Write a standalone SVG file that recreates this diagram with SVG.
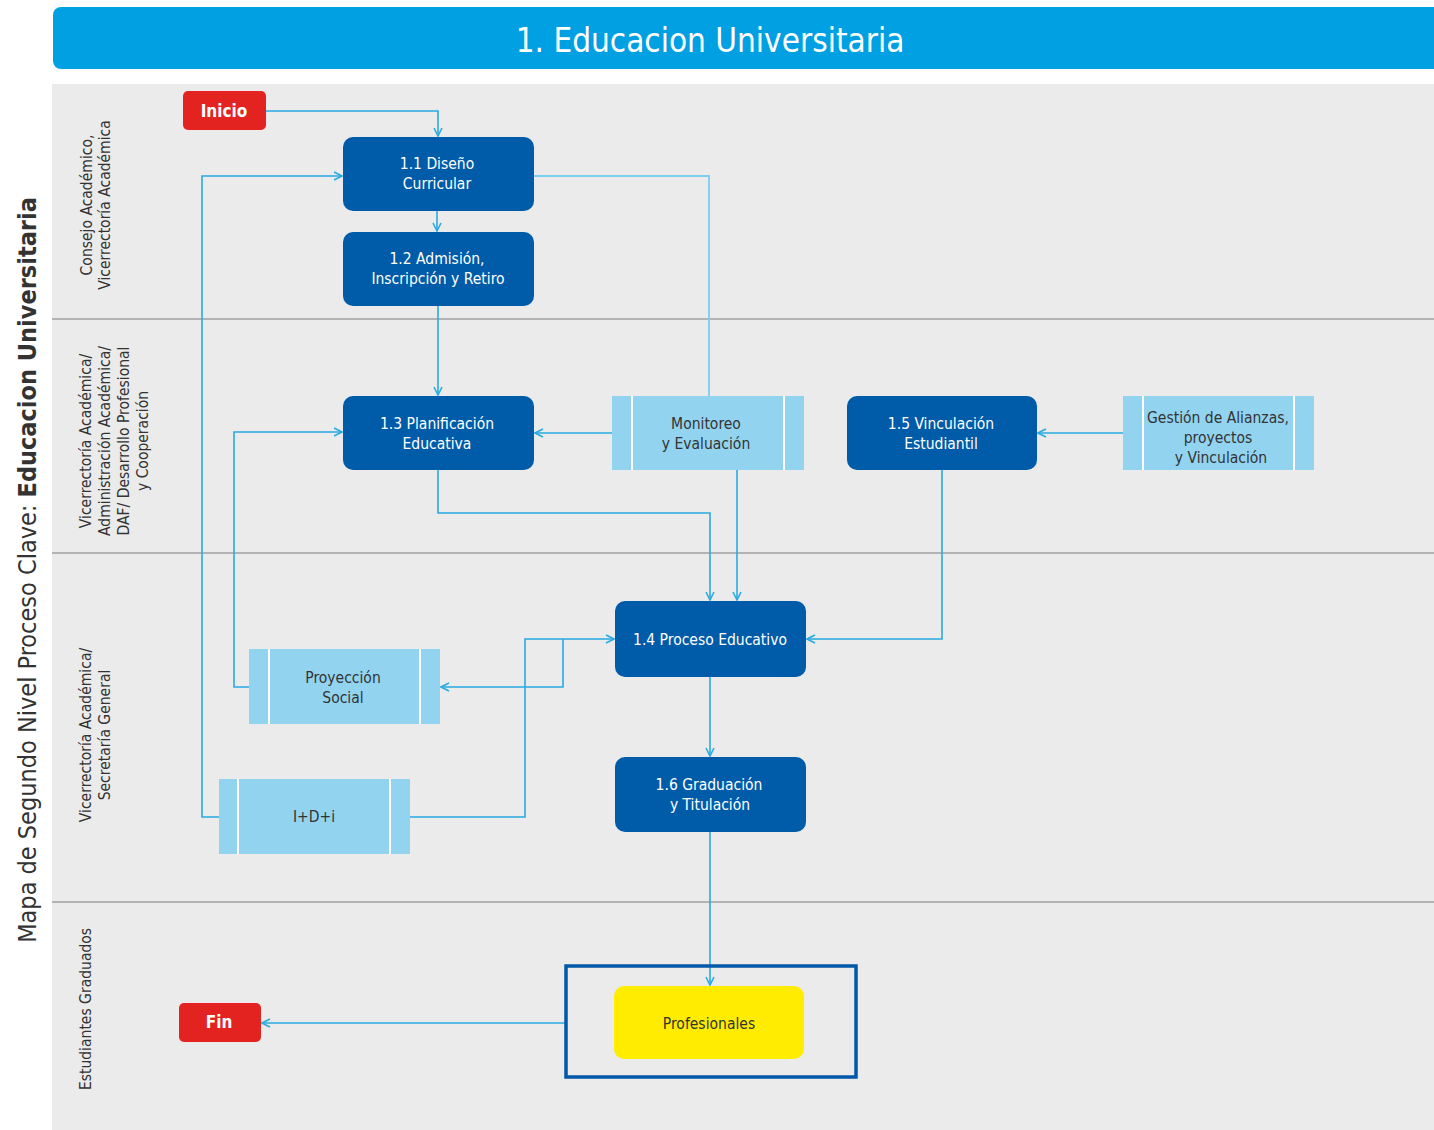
<svg xmlns="http://www.w3.org/2000/svg" width="1434" height="1130" viewBox="0 0 1434 1130">
<style>
.lane{fill:#ebebeb}
.sep{stroke:#b3b3b3;stroke-width:2}
.proc{fill:#005ca9}
.sub{fill:#92d3f0}
.bar{stroke:#ffffff;stroke-width:2}
.term{fill:#e3231f}
.wt{fill:#ffffff;font-family:"DejaVu Sans Condensed","DejaVu Sans",sans-serif;font-stretch:condensed;font-size:15.5px;text-anchor:middle}
.dt{fill:#333333;font-family:"DejaVu Sans Condensed","DejaVu Sans",sans-serif;font-stretch:condensed;font-size:15.5px;text-anchor:middle}
.tt{fill:#ffffff;font-family:"DejaVu Sans Condensed","DejaVu Sans",sans-serif;font-stretch:condensed;font-size:17px;font-weight:bold;text-anchor:middle}
.ll{fill:#333333;font-family:"DejaVu Sans Condensed","DejaVu Sans",sans-serif;font-stretch:condensed;font-size:15.5px;text-anchor:middle}
.c{fill:none;stroke:#29abe2;stroke-width:1.6}
</style>
<defs>
<marker id="arr" viewBox="0 0 10 10" refX="9" refY="5" markerWidth="10" markerHeight="10" markerUnits="userSpaceOnUse" orient="auto">
<path d="M1,1 L9,5 L1,9" fill="none" stroke="#29abe2" stroke-width="1.6"/>
</marker>
</defs>
<rect x="0" y="0" width="1434" height="1130" fill="#ffffff"/>
<g id="header">
<rect x="53" y="7" width="1400" height="62" rx="8" fill="#00a0e3"/>
<text x="710" y="52" fill="#ffffff" font-family="DejaVu Sans Condensed, DejaVu Sans, sans-serif" font-stretch="condensed" font-size="33" text-anchor="middle">1. Educacion Universitaria</text>
</g>
<g id="side-title">
<text transform="translate(36,570) rotate(-90)" fill="#333333" font-family="DejaVu Sans Condensed, DejaVu Sans, sans-serif" font-stretch="condensed" font-size="25" text-anchor="middle">Mapa de Segundo Nivel Proceso Clave: <tspan font-weight="bold">Educacion Universitaria</tspan></text>
</g>
<g id="lanes">
<rect class="lane" x="52" y="84" width="1382" height="1046"/>
<line class="sep" x1="52" y1="319" x2="1434" y2="319"/>
<line class="sep" x1="52" y1="553" x2="1434" y2="553"/>
<line class="sep" x1="52" y1="902" x2="1434" y2="902"/>
<text class="ll" transform="translate(92,205) rotate(-90)">Consejo Académico,</text>
<text class="ll" transform="translate(110,205) rotate(-90)">Vicerrectoría Académica</text>
<text class="ll" transform="translate(91,441) rotate(-90)">Vicerrectoría Académica/</text>
<text class="ll" transform="translate(110,441) rotate(-90)">Administración Académica/</text>
<text class="ll" transform="translate(129,441) rotate(-90)">DAF/ Desarrollo Profesional</text>
<text class="ll" transform="translate(148,441) rotate(-90)">y Cooperación</text>
<text class="ll" transform="translate(91,735) rotate(-90)">Vicerrectoría Académica/</text>
<text class="ll" transform="translate(110,735) rotate(-90)">Secretaría General</text>
<text class="ll" transform="translate(91,1009) rotate(-90)">Estudiantes Graduados</text>
</g>
<g id="connectors">
<path class="c" d="M266,111 H438 V136" marker-end="url(#arr)"/>
<path class="c" d="M437,211 V231" marker-end="url(#arr)"/>
<path class="c" d="M438,306 V395" marker-end="url(#arr)"/>
<path d="M534,176 H709 V396" fill="none" stroke="#7dcdf0" stroke-width="1.8"/>
<path class="c" d="M612,433 H535" marker-end="url(#arr)"/>
<path class="c" d="M737,470 V600" marker-end="url(#arr)"/>
<path class="c" d="M438,470 V513 H710 V600" marker-end="url(#arr)"/>
<path class="c" d="M942,470 V639 H807" marker-end="url(#arr)"/>
<path class="c" d="M1123,433 H1038" marker-end="url(#arr)"/>
<path class="c" d="M410,817 H525 V639 H614" marker-end="url(#arr)"/>
<path class="c" d="M563,639 V687 H441" marker-end="url(#arr)"/>
<path class="c" d="M249,687 H234 V432 H342" marker-end="url(#arr)"/>
<path class="c" d="M219,817 H202 V176 H342" marker-end="url(#arr)"/>
<path class="c" d="M710,677 V756" marker-end="url(#arr)"/>
<path class="c" d="M710,832 V985" marker-end="url(#arr)"/>
<path class="c" d="M565,1023 H262" marker-end="url(#arr)"/>
</g>
<g id="inicio">
<rect class="term" x="183" y="91" width="83" height="39" rx="5"/>
<text class="tt" x="224" y="117">Inicio</text>
</g>
<g id="n11">
<rect class="proc" x="343" y="137" width="191" height="74" rx="10"/>
<text class="wt" x="437" y="169">1.1 Diseño</text>
<text class="wt" x="437" y="189">Curricular</text>
</g>
<g id="n12">
<rect class="proc" x="343" y="232" width="191" height="74" rx="10"/>
<text class="wt" x="437" y="264">1.2 Admisión,</text>
<text class="wt" x="438" y="284">Inscripción y Retiro</text>
</g>
<g id="n13">
<rect class="proc" x="343" y="396" width="191" height="74" rx="10"/>
<text class="wt" x="437" y="429">1.3 Planificación</text>
<text class="wt" x="437" y="449">Educativa</text>
</g>
<g id="monitoreo">
<rect class="sub" x="612" y="396" width="192" height="74"/>
<line class="bar" x1="632" y1="396" x2="632" y2="470"/>
<line class="bar" x1="784" y1="396" x2="784" y2="470"/>
<text class="dt" x="706" y="429">Monitoreo</text>
<text class="dt" x="706" y="449">y Evaluación</text>
</g>
<g id="n15">
<rect class="proc" x="847" y="396" width="190" height="74" rx="10"/>
<text class="wt" x="941" y="429">1.5 Vinculación</text>
<text class="wt" x="941" y="449">Estudiantil</text>
</g>
<g id="gestion">
<rect class="sub" x="1123" y="396" width="191" height="74"/>
<line class="bar" x1="1143" y1="396" x2="1143" y2="470"/>
<line class="bar" x1="1294" y1="396" x2="1294" y2="470"/>
<text class="dt" x="1218" y="423" font-size="15">Gestión de Alianzas,</text>
<text class="dt" x="1218" y="443" font-size="15">proyectos</text>
<text class="dt" x="1221" y="463" font-size="15">y Vinculación</text>
</g>
<g id="n14">
<rect class="proc" x="615" y="601" width="191" height="76" rx="10"/>
<text class="wt" x="710" y="645">1.4 Proceso Educativo</text>
</g>
<g id="proyeccion">
<rect class="sub" x="249" y="649" width="191" height="75"/>
<line class="bar" x1="269" y1="649" x2="269" y2="724"/>
<line class="bar" x1="420" y1="649" x2="420" y2="724"/>
<text class="dt" x="343" y="683">Proyección</text>
<text class="dt" x="343" y="703">Social</text>
</g>
<g id="idi">
<rect class="sub" x="219" y="779" width="191" height="75"/>
<line class="bar" x1="238" y1="779" x2="238" y2="854"/>
<line class="bar" x1="390" y1="779" x2="390" y2="854"/>
<text class="dt" x="314" y="822">I+D+i</text>
</g>
<g id="n16">
<rect class="proc" x="615" y="757" width="191" height="75" rx="10"/>
<text class="wt" x="709" y="790">1.6 Graduación</text>
<text class="wt" x="710" y="810">y Titulación</text>
</g>
<g id="profesionales">
<rect x="566" y="966" width="290" height="111" fill="none" stroke="#0058a8" stroke-width="3.5"/>
<rect x="614" y="986" width="190" height="73" rx="10" fill="#ffec00"/>
<text class="dt" x="709" y="1029">Profesionales</text>
</g>
<g id="fin">
<rect class="term" x="179" y="1003" width="82" height="39" rx="5"/>
<text class="tt" x="219" y="1028">Fin</text>
</g>
</svg>
